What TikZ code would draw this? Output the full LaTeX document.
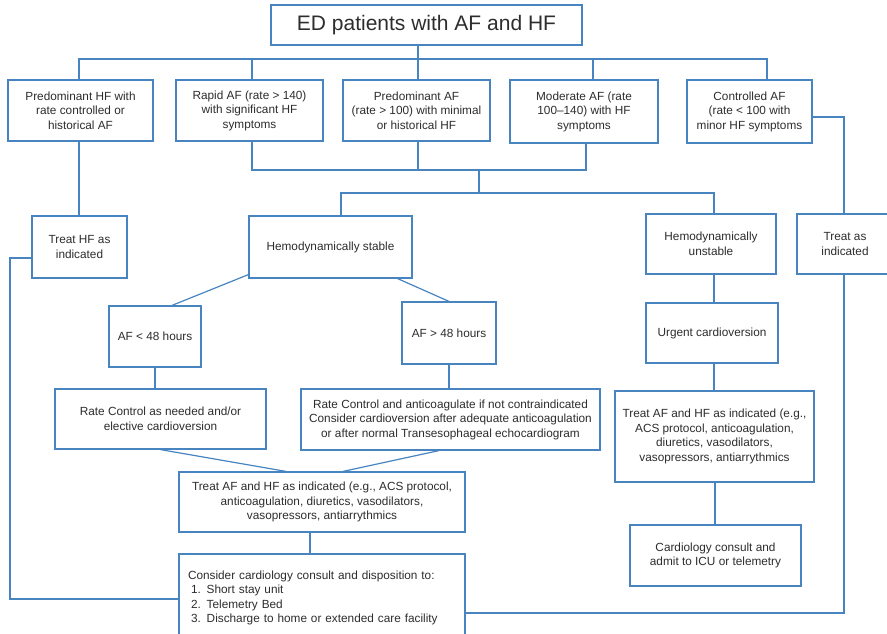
\documentclass[tikz,border=0pt]{standalone}
\usepackage{fontspec}
\setmainfont{Liberation Sans}
\usepackage{tikz}

\definecolor{lineblue}{RGB}{72,132,192}
\definecolor{textgray}{RGB}{45,45,45}

\tikzset{
  box/.style={draw=lineblue, line width=1.2pt, fill=white, text=textgray, align=center,
    inner sep=0pt, font=\fontsize{11.8}{14.5}\selectfont},
  conn/.style={draw=lineblue, line width=1.2pt}
}

\begin{document}
\begin{tikzpicture}[x=1pt,y=-1pt]
\useasboundingbox (0,0) rectangle (887,634);
\clip (0,0) rectangle (887,634);

% title
\node[box, minimum width=311, minimum height=40, font=\fontsize{21}{24}\selectfont] (title) at (426.5,25) {ED patients with AF and HF};

% 1st row
\node[box, minimum width=145, minimum height=61] (hfrate) at (80.5,110.5) {Predominant HF with\\rate controlled or\\historical AF};
\node[box, minimum width=147, minimum height=61] (rapid) at (249.5,110.5) {Rapid AF (rate > 140)\\with significant HF\\symptoms};
\node[box, minimum width=147, minimum height=61] (predaf) at (416.5,110.5) {Predominant AF\\(rate > 100) with minimal\\or historical HF};
\node[box, minimum width=148, minimum height=63] (moderate) at (584,111.5) {Moderate AF (rate\\100--140) with HF\\symptoms};
\node[box, minimum width=125, minimum height=63] (controlled) at (749.5,111.5) {Controlled AF\\(rate < 100 with\\minor HF symptoms};

% 2nd row
\node[box, minimum width=95, minimum height=62] (treathf) at (79.5,247) {Treat HF as\\indicated};
\node[box, minimum width=163, minimum height=62] (stable) at (330.5,247) {Hemodynamically stable};
\node[box, minimum width=130, minimum height=60] (unstable) at (711,244) {Hemodynamically\\unstable};
\node[box, minimum width=96, minimum height=60] (treatas) at (845,244) {Treat as\\indicated};

% 3rd row
\node[box, minimum width=92, minimum height=61] (lt48) at (155,336.5) {AF < 48 hours};
\node[box, minimum width=94, minimum height=62] (gt48) at (449,333) {AF > 48 hours};
\node[box, minimum width=132, minimum height=60] (urgent) at (712,333) {Urgent cardioversion};

% 4th row
\node[box, minimum width=211, minimum height=60] (ratectl) at (160.5,419) {Rate Control as needed and/or\\elective cardioversion};
\node[box, minimum width=299, minimum height=61] (rateanti) at (450.5,419.5) {Rate Control and anticoagulate if not contraindicated\\Consider cardioversion after adequate anticoagulation\\or after normal Transesophageal echocardiogram};
\node[box, minimum width=199, minimum height=91] (treatR) at (714.5,436.5) {Treat AF and HF as indicated (e.g.,\\ACS protocol, anticoagulation,\\diuretics, vasodilators,\\vasopressors, antiarrythmics};

% bottom
\node[box, minimum width=286, minimum height=60] (treatM) at (322,502) {Treat AF and HF as indicated (e.g., ACS protocol,\\anticoagulation, diuretics, vasodilators,\\vasopressors, antiarrythmics};
\node[box, align=left, text width=268, inner xsep=9pt, minimum height=88] (dispo) at (322,598) {Consider cardiology consult and disposition to:\\\hspace{3pt}1. Short stay unit\\\hspace{3pt}2. Telemetry Bed\\\hspace{3pt}3. Discharge to home or extended care facility};
\node[box, minimum width=171, minimum height=61] (cardio) at (715.5,555.5) {Cardiology consult and\\admit to ICU or telemetry};

% top bus
\coordinate (tb) at (418,59);
\draw[conn] (title.south -| tb) -- (tb);
\draw[conn] ([xshift=-1.5pt]hfrate.north) |- (tb);
\draw[conn] ([xshift=17.5pt]controlled.north) |- (tb);
\draw[conn] ([xshift=2.5pt]rapid.north) -- ([xshift=2.5pt]rapid.north |- tb);
\draw[conn] ([xshift=1.5pt]predaf.north) -- ([xshift=1.5pt]predaf.north |- tb);
\draw[conn] ([xshift=9pt]moderate.north) -- ([xshift=9pt]moderate.north |- tb);

% merge of the three rate boxes
\coordinate (mb) at (479,170);
\coordinate (sb) at (479,193);
\draw[conn] ([xshift=2.5pt]rapid.south) -- ([xshift=2.5pt]rapid.south |- mb) -| ([xshift=2pt]moderate.south);
\draw[conn] ([xshift=1.5pt]predaf.south) -- ([xshift=1.5pt]predaf.south |- mb);
\draw[conn] (mb) -- (sb);
\draw[conn] ([xshift=10.5pt]stable.north) |- (sb) -| ([xshift=3pt]unstable.north);

% left side
\coordinate (lb) at (10,599);
\draw[conn] ([xshift=-1.5pt]hfrate.south) -- ([xshift=-1.5pt]hfrate.south |- treathf.north);
\draw[conn] ([yshift=-11pt]treathf.west) -| (lb) -- (lb -| dispo.west);

% right side
\coordinate (rb) at (844,613);
\draw[conn] ([yshift=-5.5pt]controlled.east) -| (treatas.north -| rb);
\draw[conn] (treatas.south -| rb) -- (rb) -- (rb -| dispo.east);

% stable branch
\draw[conn] ([yshift=4pt]stable.south west) -- ([xshift=17pt]lt48.north);
\draw[conn] ([xshift=-15pt]stable.south east) -- (gt48.north);
\draw[conn] (lt48.south) -- (lt48.south |- ratectl.north);
\draw[conn] (gt48.south) -- (gt48.south |- rateanti.north);
\draw[conn] (ratectl.south) -- ([xshift=-36pt]treatM.north);
\draw[conn] ([xshift=-11.5pt]rateanti.south) -- ([xshift=21pt]treatM.north);
\draw[conn] ([xshift=-12pt]treatM.south) -- ([xshift=-12pt]treatM.south |- dispo.north);

% unstable branch
\draw[conn] ([xshift=3pt]unstable.south) -- ([xshift=3pt]unstable.south |- urgent.north);
\draw[conn] ([xshift=2pt]urgent.south) -- ([xshift=2pt]urgent.south |- treatR.north);
\draw[conn] ([xshift=0.5pt]treatR.south) -- ([xshift=0.5pt]treatR.south |- cardio.north);
\end{tikzpicture}
\end{document}
